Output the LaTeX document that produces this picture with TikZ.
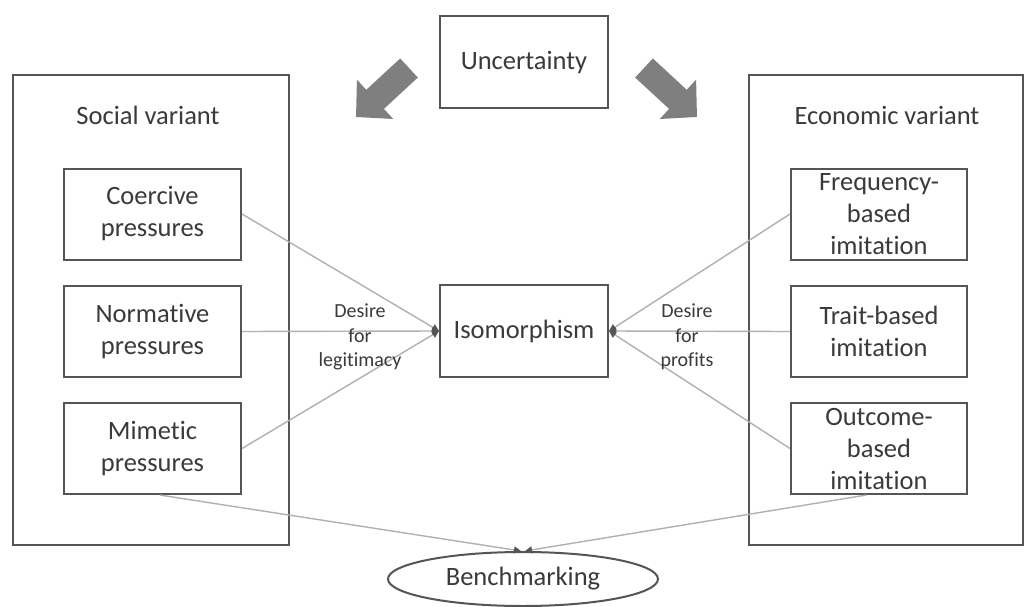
\documentclass[tikz,border=0pt]{standalone}
\usepackage{fontspec}
\setmainfont{Carlito}[RawFeature={-liga}]
\usetikzlibrary{arrows.meta,shapes.geometric,calc}
\definecolor{txtc}{HTML}{3A3A3A}
\definecolor{framec}{HTML}{555555}
\definecolor{connc}{HTML}{B0B0B0}
\definecolor{blockc}{HTML}{7F7F7F}
\begin{document}
\begin{tikzpicture}[x=1pt,y=-1pt,
  every node/.style={text=txtc, font=\fontsize{26.5}{32}\selectfont, inner sep=0pt},
  panel/.style={draw=framec, line width=2pt, minimum width=#1, minimum height=470pt},
  itembox/.style={draw=framec, line width=2pt, minimum width=177pt, minimum height=91pt, align=center},
  centerbox/.style={draw=framec, line width=2pt, minimum width=168pt, minimum height=92pt, align=center},
  smalllabel/.style={font=\fontsize{20}{24.5}\selectfont, align=center},
  conn/.style={draw=connc, line width=1.4pt, -{Triangle[length=7pt,width=7pt,color=framec,fill=framec]}},
  bigarrow/.style={draw=blockc, line width=26pt, -{Triangle[length=26pt,width=52pt,color=blockc,fill=blockc]}}
]
\useasboundingbox (0,0) rectangle (1025,607);
\fill[white] (0,0) rectangle (1025,607);

% panels
\node[panel=276pt] (social) at (151,310) {};
\node[panel=274pt] (economic) at (886,310) {};
\node (socialtitle) at (148,115) {Social variant};
\node (econtitle) at (887,115) {Economic variant};

% left items
\node[itembox] (coer) at (152.5,214) {Coercive\\pressures};
\node[itembox] (norm) at (152.5,331.5) {Normative\\pressures};
\node[itembox] (mim) at (152.5,448.5) {Mimetic\\pressures};

% right items
\node[itembox, minimum width=176pt] (freq) at (879,214) {Frequency-\\based\\imitation};
\node[itembox, minimum width=176pt] (trait) at (879,331.5) {Trait-based\\imitation};
\node[itembox, minimum width=176pt] (outc) at (879,448.5) {Outcome-\\based\\imitation};

% center
\node[centerbox] (unc) at (524,62.5) {Uncertainty};
\node[centerbox] (iso) at (524,331) {Isomorphism};
\node[draw=framec, line width=2pt, ellipse, minimum width=270pt, minimum height=54pt] (bench) at (523,579) {Benchmarking};

% block arrows
\coordinate (la0) at (409,68);
\coordinate (la1) at (356,117);
\coordinate (ra0) at (644,68);
\coordinate (ra1) at (697,117);
\draw[bigarrow] (la0) -- (la1);
\draw[bigarrow] (ra0) -- (ra1);

% connectors to isomorphism
\draw[conn] (coer.east) -- (iso.west);
\draw[conn] (norm.east) -- (iso.west);
\draw[conn] (mim.east) -- (iso.west);
\draw[conn] (freq.west) -- (iso.east);
\draw[conn] (trait.west) -- (iso.east);
\draw[conn] (outc.west) -- (iso.east);

\node[smalllabel] (leglab) at (360,337) {Desire\\for\\legitimacy};
\node[smalllabel] (proflab) at (687,337) {Desire\\for\\profits};

% connectors to benchmarking
\coordinate (mimfoot) at ($(mim.south west)!0.54!(mim.south east)$);
\coordinate (outfoot) at ($(outc.south west)!0.43!(outc.south east)$);
\draw[conn] (mimfoot) -- ([xshift=-2pt]bench.north);
\draw[conn] (outfoot) -- ([xshift=2pt]bench.north);
\end{tikzpicture}
\end{document}
